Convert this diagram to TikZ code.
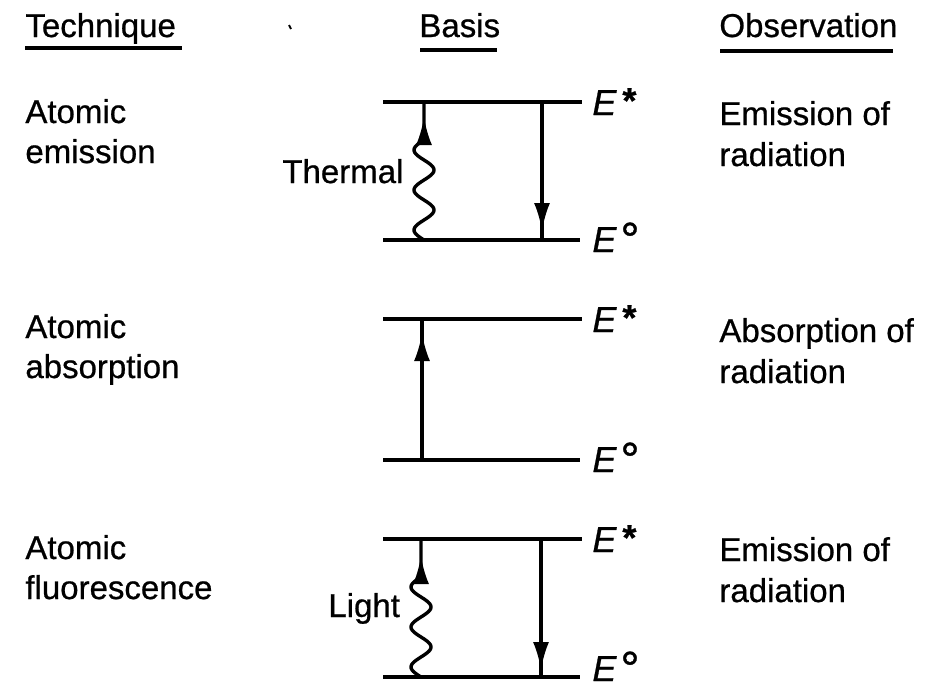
\documentclass[tikz,border=0pt]{standalone}
\usepackage{fontspec}
\setmainfont{Liberation Sans}[FakeBold=0.7]
\usetikzlibrary{arrows.meta}
\begin{document}
\begin{tikzpicture}[x=0.5pt,y=-0.5pt,
  txt/.style={anchor=base west,inner sep=0pt,font=\fontsize{16.5}{20}\selectfont},
  etxt/.style={anchor=base west,inner sep=0pt,font=\fontsize{18}{20}\selectfont},
  lvl/.style={line width=1.7pt},
  uline/.style={line width=1.7pt},
  stem/.style={line width=1.6pt},
  head/.style={line width=1.6pt,-{Latex[length=14pt,width=8pt]}},
  wave/.style={line width=1.7pt}]
\useasboundingbox (0,0) rectangle (935,691);
% headers
\node[txt] (hT) at (25,37) {Technique};
\node[txt] (hB) at (419,37) {Basis};
\node[txt] (hO) at (719,37) {Observation};
\coordinate (uT1) at (25,48); \coordinate (uT2) at (182,48);
\coordinate (uB1) at (420,50); \coordinate (uB2) at (497,50);
\coordinate (uO1) at (720,51); \coordinate (uO2) at (893,51);
\draw[uline] (uT1) -- (uT2);
\draw[uline] (uB1) -- (uB2);
\draw[uline] (uO1) -- (uO2);
\coordinate (mk1) at (289,25); \coordinate (mk2) at (291,29);
\draw[line width=1pt] (mk1) -- (mk2);
% left column
\node[txt] (l1a) at (25,123) {Atomic};
\node[txt] (l1b) at (25,163) {emission};
\node[txt] (l2a) at (25,338) {Atomic};
\node[txt] (l2b) at (25,378) {absorption};
\node[txt] (l3a) at (25,559) {Atomic};
\node[txt] (l3b) at (25,599) {fluorescence};
% right column
\node[txt] (r1a) at (719,125) {Emission of};
\node[txt] (r1b) at (719,166) {radiation};
\node[txt] (r2a) at (719,342) {Absorption of};
\node[txt] (r2b) at (719,383) {radiation};
\node[txt] (r3a) at (719,561) {Emission of};
\node[txt] (r3b) at (719,602) {radiation};
% energy labels
\foreach \n/\y in {1/115,2/332,3/552}{
  \node[etxt] (es\n) at (592,\y) {\itshape E\hspace{3pt}\raisebox{1pt}{\upshape\bfseries *}};
}
\foreach \n/\y in {1/252,2/472,3/681}{
  \node[etxt] (eo\n) at (592,\y) {\itshape E\hspace{2pt}\raisebox{-2pt}[\height][0pt]{\upshape\fontsize{24}{24}\selectfont °}};
}
% levels
\foreach \n/\yt/\yb in {1/102/240,2/319/460,3/539/677}{
  \coordinate (tl\n) at (383,\yt); \coordinate (tr\n) at (582,\yt);
  \coordinate (bl\n) at (383,\yb); \coordinate (br\n) at (580,\yb);
  \draw[lvl] (tl\n) -- (tr\n);
  \draw[lvl] (bl\n) -- (br\n);
}
% panel 1
\node[txt] (th) at (282,183) {Thermal};
\coordinate (w1t) at (424,102);
\coordinate (w1h) at (424,117); \coordinate (w1a) at (424,140);
\draw[wave] plot[domain=240:140,samples=90,smooth] ({424-10*sin(9*(240-\x))},\x) -- (w1t);
\draw[head] (w1a) -- (w1h);
\coordinate (d1t) at (542,102); \coordinate (d1b) at (542,240); \coordinate (d1h) at (542,231);
\draw[stem] (d1t) -- (d1b);
\draw[head] (d1t) -- (d1h);
% panel 2
\coordinate (a2b) at (422,460); \coordinate (a2t) at (422,319); \coordinate (a2h) at (422,333);
\draw[stem] (a2b) -- (a2t);
\draw[head] (a2b) -- (a2h);
% panel 3
\node[txt] (li) at (328,617) {Light};
\coordinate (w3t) at (421,539);
\coordinate (w3h) at (421,556); \coordinate (w3a) at (421,577);
\draw[wave] plot[domain=677:577,samples=90,smooth] ({421-10*sin(9*(677-\x))},\x) -- (w3t);
\draw[head] (w3a) -- (w3h);
\coordinate (d3t) at (541,539); \coordinate (d3b) at (541,677); \coordinate (d3h) at (541,670);
\draw[stem] (d3t) -- (d3b);
\draw[head] (d3t) -- (d3h);
\end{tikzpicture}
\end{document}
